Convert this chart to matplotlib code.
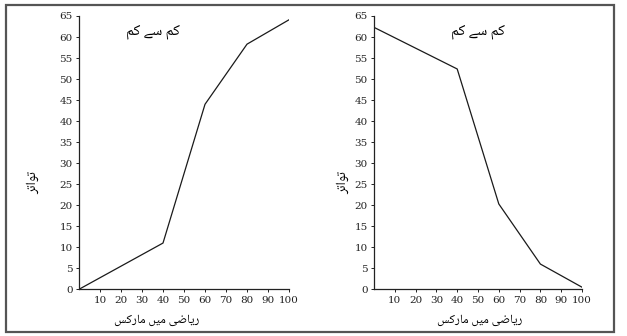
import matplotlib
matplotlib.use("Agg")
from matplotlib import pyplot as plt
from matplotlib.patches import Rectangle

# data
marks = [0, 40, 60, 80, 100]
less_than = [0, 11, 44, 58.3, 64.1]
more_than_marks = [0, 40, 60, 80, 100]
more_than = [62.3, 52.4, 20.3, 6.0, 0.5]

x_ticks = [10, 20, 30, 40, 50, 60, 70, 80, 90, 100]
y_ticks = list(range(0, 70, 5))

title_text = "کم سے کم"
ylabel_text = "تواتر"
xlabel_text = "ریاضی میں مارکس"

urdu_fonts = ["Noto Naskh Arabic", "Amiri", "DejaVu Sans"]

# matplotlib has no arabic shaping, so pick the presentation forms by hand
# (isolated, final, initial, medial)
forms = {
    "ک": (0xFB8E, 0xFB8F, 0xFB90, 0xFB91),
    "م": (0xFEE1, 0xFEE2, 0xFEE3, 0xFEE4),
    "س": (0xFEB1, 0xFEB2, 0xFEB3, 0xFEB4),
    "ت": (0xFE95, 0xFE96, 0xFE97, 0xFE98),
    "ی": (0xFBFC, 0xFBFD, 0xFBFE, 0xFBFF),
    "ض": (0xFEBD, 0xFEBE, 0xFEBF, 0xFEC0),
    "ں": (0xFB9E, 0xFB9F),
    "ا": (0xFE8D, 0xFE8E),
    "ر": (0xFEAD, 0xFEAE),
    "و": (0xFEED, 0xFEEE),
    "ے": (0xFBAE, 0xFBAF),
}

def shape(text):
    words = []
    for w in text.split(" "):
        out = []
        for i, ch in enumerate(w):
            f = forms[ch]
            prev = i > 0 and len(forms[w[i - 1]]) == 4
            nxt = len(f) == 4 and i < len(w) - 1
            if prev and nxt:
                c = f[3]
            elif nxt:
                c = f[2]
            elif prev:
                c = f[1]
            else:
                c = f[0]
            out.append(chr(c))
        words.append("".join(reversed(out)))
    return " ".join(reversed(words))

plt.rcParams["font.family"] = "DejaVu Serif"

fig = plt.figure(figsize=(6.27, 3.36), dpi=100)

fig.patches.append(Rectangle((6 / 627, 1 - 332 / 336), 608 / 627, 327 / 336,
                             transform=fig.transFigure, fill=False,
                             edgecolor="#555555", linewidth=1.6))

# left px, width px, x, y, title x, ylabel x (axes frac), xlabel x (axes frac)
panels = [
    (79, 210, marks, less_than, 35, -0.219, 0.37),
    (374, 208, more_than_marks, more_than, 50, -0.149, 0.51),
]

for left, width, xs, ys, title_x, ylab_x, xlab_x in panels:
    ax = fig.add_axes([left / 627, 1 - 289.3 / 336, width / 627, 273.3 / 336])
    ax.plot(xs, ys, color="#1a1a1a", linewidth=0.9)
    ax.set_xlim(0, 100)
    ax.set_ylim(0, 65)
    ax.set_xticks(x_ticks)
    ax.set_yticks(y_ticks)
    ax.tick_params(labelsize=7.5, length=2.5, width=0.7, pad=2, colors="#222222")
    for s in ["top", "right"]:
        ax.spines[s].set_visible(False)
    for s in ["left", "bottom"]:
        ax.spines[s].set_linewidth(0.9)
        ax.spines[s].set_color("#222222")
    ax.text(title_x, 61, shape(title_text), family=urdu_fonts,
            fontsize=11, ha="center", va="center")
    ax.set_xlabel(shape(xlabel_text), family=urdu_fonts, fontsize=9)
    ax.xaxis.set_label_coords(xlab_x, -0.112)
    ax.xaxis.label.set_va("center")
    ax.set_ylabel(shape(ylabel_text), family=urdu_fonts, fontsize=10)
    ax.yaxis.set_label_coords(ylab_x, 0.39)
    ax.yaxis.label.set_va("center")

fig.savefig("out.png", dpi=100)
